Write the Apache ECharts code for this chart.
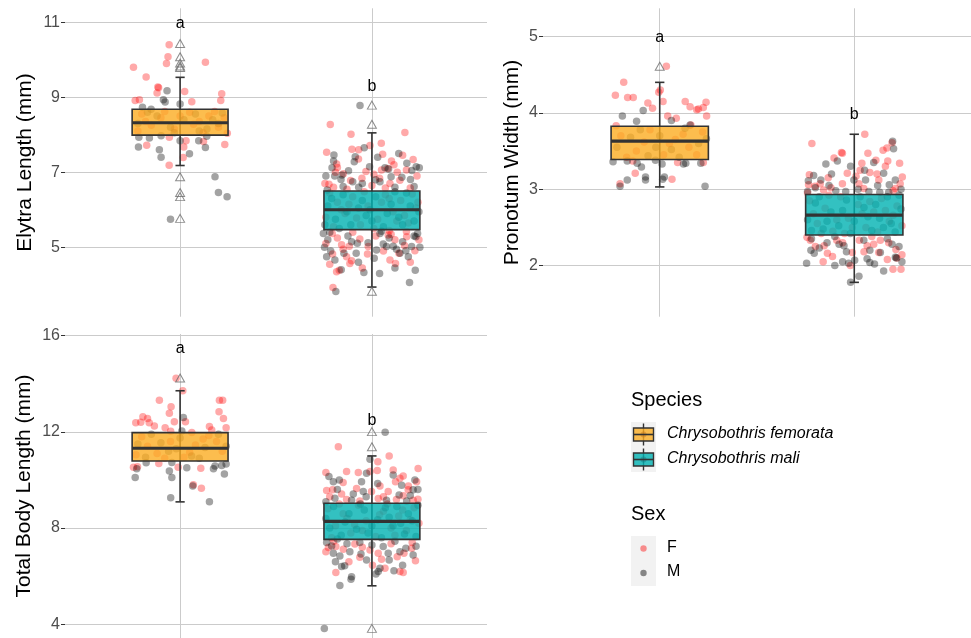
<!DOCTYPE html>
<html>
<head>
<meta charset="utf-8">
<script src="https://cdn.jsdelivr.net/npm/echarts@6/dist/echarts.min.js"></script>
<style>html,body{margin:0;padding:0;background:#fff}#c{width:971px;height:638px}</style>
</head>
<body>
<div id="c"></div>
<script>
// ---------------- DATA ----------------
const species = ['Chrysobothris femorata', 'Chrysobothris mali'];
const sexes = ['F', 'M'];

// box stats per species: [lower whisker, Q1, median, Q3, upper whisker]
const elytraStats = [[7.18, 7.99, 8.32, 8.68, 9.53], [3.94, 5.47, 6.00, 6.50, 8.05]];
const pronotumStats = [[3.03, 3.39, 3.63, 3.825, 4.40], [1.78, 2.40, 2.66, 2.93, 3.72]];
const bodyStats = [[9.09, 10.79, 11.32, 11.97, 13.71], [5.60, 7.53, 8.28, 9.03, 11.00]];

// outliers per species
const elytraOutliers = [[10.43, 10.08, 9.91, 9.83, 9.79, 6.88, 6.46, 6.35, 5.77], [8.79, 8.28, 3.83]];
const pronotumOutliers = [[4.61], []];
const bodyOutliers = [[14.24], [12.01, 11.38, 3.83]];

// significance letters and their heights
const elytraLetters = [['a', 10.97], ['b', 9.27]];
const pronotumLetters = [['a', 4.98], ['b', 3.98]];
const bodyLetters = [['a', 15.45], ['b', 12.47]];

// y tick labels
const elytraTicks = [5, 7, 9, 11];
const pronotumTicks = [2, 3, 4, 5];
const bodyTicks = [4, 8, 12, 16];

// jittered observations: [jitter offset, value]
const elytraFemF = [[-0.057,10.40],[-0.063,10.08],[-0.071,9.90],[-0.243,9.80],[0.132,9.93],[-0.177,9.54],[-0.116,9.27],[-0.112,9.25],[-0.120,9.11],[0.024,9.15],[0.061,8.88],[0.217,9.09],[0.212,8.91],[-0.234,8.91],[-0.212,8.93],[-0.174,7.72],[-0.056,7.93],[0.031,7.84],[0.019,7.67],[0.122,7.82],[0.233,7.74],[-0.057,7.19],[0.016,7.39],[0.246,8.04],
  [-0.2,8.55],[-0.15,8.25],[-0.1,8.45],[-0.03,8.15],[0.05,8.6],[0.1,8.35],[0.15,8.5],[0.2,8.2],[-0.22,8.1],[0.0,8.5],[0.12,8.05],[-0.08,8.62],[0.23,8.45],[-0.18,8.35],[0.07,8.28],[0.18,8.62]];
const elytraFemM = [[-0.068,9.17],[-0.087,8.93],[-0.078,8.87],[0.0,8.82],[-0.196,8.73],[-0.151,8.68],[-0.215,7.93],[-0.160,7.91],[-0.099,7.97],[-0.217,7.67],[-0.108,7.60],[-0.099,7.40],[0.0,7.84],[0.049,7.49],[0.097,7.84],[0.139,7.96],[0.132,7.66],[0.182,6.88],[0.200,6.46],[0.245,6.35],[-0.050,5.75],
  [-0.22,8.3],[-0.12,8.5],[-0.05,8.2],[0.02,8.4],[0.08,8.55],[0.14,8.15],[0.2,8.3],[-0.17,8.6],[0.22,8.58],[-0.03,8.05],[0.1,8.1],[0.17,8.4]];
const elytraMaliF = [[-0.217,8.27],[-0.109,8.01],[0.172,8.06],[-0.236,7.53],[-0.104,7.61],[-0.069,7.60],[0.049,7.77],[0.056,7.48],[-0.184,7.22],[-0.180,7.13],[-0.031,7.02],[0.102,7.30],[0.050,7.06],[-0.052,6.84],[0.215,7.34],[0.180,7.06],[-0.224,6.68],[-0.111,6.78],[0.040,6.84],[0.094,6.70],[0.146,6.79],[-0.010,7.71],[-0.149,6.96],[0.132,7.00],[0.082,7.10],
  [-0.207,5.37],[-0.158,5.07],[-0.205,4.82],[-0.118,5.03],[-0.132,4.75],[-0.106,4.64],[-0.115,4.57],[-0.170,4.39],[-0.184,4.35],[-0.063,5.22],[-0.019,5.02],[-0.023,4.82],[0.085,5.33],[0.120,5.20],[0.094,4.66],[0.123,4.57],[0.181,5.28],[0.224,4.91],[0.141,4.84],[-0.203,3.93],
  [-0.22,6.45],[-0.18,6.2],[-0.14,5.9],[-0.1,6.35],[-0.06,5.6],[-0.02,6.1],[0.03,5.75],[0.07,6.4],[0.11,5.95],[0.15,6.25],[0.19,5.65],[0.23,6.05],[-0.24,5.8],[-0.2,5.55],[-0.12,6.15],[-0.04,6.48],[0.01,5.5],[0.09,6.3],[0.13,5.7],[0.21,6.42],[-0.16,6.0],[0.05,6.2],[0.17,5.85],[-0.08,5.78],[0.24,6.2],
  [-0.2,6.6],[0.0,6.65],[0.2,6.58],[-0.1,5.4],[0.1,5.35],[0.18,5.42],
  [-0.245,6.7],[-0.19,7.0],[0.01,6.95],[0.115,7.2],[0.235,6.9],[-0.07,7.35],[0.16,7.45],[-0.13,6.55],[0.07,6.58],[-0.24,5.1],[-0.15,4.95],[0.02,5.3],[0.06,4.9],[0.17,5.05],[0.245,5.2],[-0.05,4.45],[0.2,4.6],[-0.22,4.55],[0.09,5.45],[-0.18,5.25]];
const elytraMaliM = [[-0.062,8.78],[-0.198,7.46],[-0.087,7.41],[-0.092,7.28],[-0.156,6.93],[-0.122,7.04],[-0.194,6.90],[-0.161,6.81],[-0.208,7.12],[0.068,7.12],[0.087,7.09],[0.182,7.24],[0.231,7.15],[0.247,7.12],[0.201,6.81],[0.156,6.87],[0.019,6.80],[-0.069,6.60],[0.042,6.75],[-0.233,6.53],[0.208,7.05],[-0.012,7.15],
  [-0.253,5.37],[-0.247,5.00],[-0.236,4.75],[-0.193,4.66],[-0.146,4.84],[-0.076,5.11],[-0.082,4.84],[-0.106,5.15],[-0.042,4.33],[-0.188,3.82],[0.012,4.71],[0.024,4.93],[0.059,5.09],[0.076,5.02],[0.111,5.03],[0.128,4.95],[0.146,4.84],[0.177,4.91],[0.207,5.02],[0.229,5.28],[0.238,5.37],[0.226,4.39],[0.196,4.06],[0.042,5.37],
  [-0.23,6.1],[-0.19,5.75],[-0.15,6.4],[-0.11,5.6],[-0.07,6.05],[-0.03,5.85],[0.02,6.35],[0.06,5.55],[0.1,6.15],[0.14,5.8],[0.18,6.45],[0.22,5.7],[0.245,5.95],[-0.245,5.6],[-0.21,6.3],[-0.13,5.95],[-0.05,6.25],[0.0,5.7],[0.08,5.9],[0.12,6.48],[0.2,6.1],[-0.17,5.5],[0.16,5.6],[-0.01,6.0],
  [-0.15,6.62],[0.12,6.6],[-0.22,5.4],[0.05,5.43],[0.22,5.3],[-0.05,6.7],
  [-0.24,6.9],[-0.1,6.75],[0.1,6.88],[0.22,6.62],[0.03,7.4],[-0.2,7.3],[0.14,7.5],[-0.04,7.65],[-0.215,4.9],[-0.125,5.3],[-0.02,5.12],[0.09,5.25],[0.16,5.15],[0.25,5.0],[0.19,4.75],[-0.07,4.6],[0.12,4.45],[-0.16,4.4],[0.04,4.3],[-0.23,5.2]];

const pronotumFemF = [[0.034,4.61],[-0.185,4.40],[-0.228,4.23],[-0.165,4.20],[-0.136,4.20],[-0.005,4.27],[0.003,4.30],[0.017,4.15],[-0.061,4.13],[-0.037,4.06],[0.131,4.15],[0.156,4.08],[0.190,4.04],[0.199,4.05],[0.224,4.07],[0.238,4.14],[0.241,3.96],[0.041,3.96],[0.085,3.93],[-0.224,3.83],[-0.126,3.21],[0.063,3.13],[-0.204,3.07],[0.092,3.35],[-0.139,3.37],[0.224,3.35],[0.160,3.84],
  [-0.2,3.7],[-0.12,3.5],[-0.05,3.78],[0.02,3.45],[0.08,3.65],[0.15,3.55],[0.22,3.75],[-0.17,3.42],[0.05,3.6],[0.19,3.45],[-0.08,3.62],[0.12,3.72]];
const pronotumFemM = [[-0.085,4.03],[-0.192,3.96],[-0.119,3.89],[0.060,3.90],[0.156,3.84],[-0.240,3.36],[-0.167,3.37],[-0.094,3.29],[-0.116,3.34],[-0.073,3.16],[-0.073,3.12],[-0.167,3.12],[-0.204,3.04],[0.015,3.13],[0.024,3.16],[0.122,3.33],[0.134,3.34],[0.211,3.34],[0.233,3.04],[-0.022,3.38],[0.012,3.33],
  [-0.22,3.55],[-0.15,3.68],[-0.06,3.44],[0.0,3.7],[0.06,3.52],[0.13,3.8],[0.2,3.6],[-0.1,3.78],[0.1,3.42],[0.24,3.66],[-0.02,3.55]];
const pronotumMaliF = [[0.054,3.72],[-0.218,3.60],[-0.066,3.48],[-0.061,3.47],[-0.104,3.41],[0.070,3.47],[0.168,3.54],[0.194,3.61],[0.148,3.51],[0.111,3.38],[0.172,3.37],[0.233,3.34],[0.039,3.34],[0.080,3.22],[0.117,3.20],[0.126,3.12],[-0.061,3.07],[-0.036,3.21],[0.009,3.17],[0.024,3.07],[-0.134,3.15],[-0.175,3.07],[-0.202,3.04],[-0.231,3.19],[-0.235,3.06],[0.247,3.16],[0.236,3.07],[0.211,3.01],[0.049,3.01],[-0.158,2.99],
  [-0.243,2.37],[-0.226,2.33],[-0.155,2.26],[-0.138,2.16],[-0.112,2.12],[0.066,2.26],[0.100,2.28],[0.134,2.33],[0.177,2.30],[0.214,2.21],[0.245,2.14],[0.199,1.95],[0.240,1.95],[0.126,2.17],[-0.010,2.17],[-0.090,2.33],[0.026,2.33],[0.219,2.10],
  [-0.23,2.85],[-0.19,2.55],[-0.15,2.75],[-0.11,2.45],[-0.07,2.9],[-0.03,2.62],[0.02,2.8],[0.06,2.5],[0.1,2.7],[0.14,2.88],[0.18,2.58],[0.22,2.78],[-0.21,2.68],[-0.13,2.92],[-0.05,2.42],[0.04,2.68],[0.12,2.44],[0.2,2.66],[0.245,2.52],[-0.17,2.42],[-0.09,2.6],[0.08,2.84],[0.16,2.72],[-0.01,2.5],
  [-0.24,2.95],[-0.12,3.02],[0.03,3.25],[0.16,3.3],[0.2,2.98],[-0.2,2.25],[-0.06,2.3],[0.05,2.18],[0.17,2.08],[-0.16,2.05],[0.09,2.38],[-0.02,2.0]];
const pronotumMaliM = [[0.197,3.63],[0.202,3.53],[-0.146,3.33],[-0.087,3.37],[-0.019,3.30],[0.100,3.35],[0.053,3.25],[-0.117,3.20],[0.151,3.21],[-0.236,3.11],[-0.172,3.12],[-0.002,3.12],[0.058,3.12],[0.211,3.12],[-0.209,3.18],[0.180,3.06],[-0.095,2.98],[-0.044,2.97],[0.075,2.97],[0.131,2.96],[0.177,2.96],[-0.240,2.97],
  [-0.245,2.03],[-0.100,2.00],[-0.060,2.05],[-0.029,2.03],[-0.019,1.78],[0.024,1.86],[0.080,2.04],[0.104,2.02],[0.151,1.93],[0.216,2.10],[0.245,2.05],[-0.223,2.20],[-0.206,2.16],[-0.180,2.23],[-0.078,2.28],[-0.053,2.26],[0.049,2.33],[0.134,2.17],[0.194,2.28],[0.211,2.11],[0.002,2.07],[0.066,2.09],
  [-0.24,2.6],[-0.2,2.82],[-0.16,2.48],[-0.12,2.7],[-0.08,2.52],[-0.04,2.86],[0.0,2.58],[0.05,2.76],[0.09,2.46],[0.13,2.62],[0.17,2.9],[0.21,2.44],[0.24,2.74],[-0.22,2.46],[-0.14,2.58],[-0.06,2.72],[0.03,2.9],[0.11,2.8],[0.19,2.55],[-0.18,2.9],[-0.02,2.42],[0.07,2.64],[0.15,2.5],[0.23,2.92],
  [-0.2,3.02],[-0.13,3.05],[0.02,3.0],[0.12,3.05],[0.24,3.0],[-0.22,2.35],[-0.14,2.3],[-0.04,2.18],[0.08,2.2],[0.17,2.35],[0.23,2.25],[-0.1,2.38]];

const bodyFemF = [[-0.021,14.23],[0.014,13.71],[-0.108,13.32],[-0.047,13.05],[-0.056,12.77],[-0.194,12.63],[-0.170,12.56],[-0.231,12.38],[-0.205,12.40],[-0.161,12.38],[-0.134,12.24],[-0.030,12.42],[0.028,12.42],[-0.078,12.17],[-0.049,12.03],[0.153,12.22],[0.165,12.08],[0.205,13.32],[0.222,13.32],[0.203,12.84],[0.226,12.56],[0.240,12.17],[0.061,11.97],[-0.243,10.53],[-0.222,10.55],[-0.010,10.53],[0.108,10.49],[0.069,9.80],[0.111,9.66],[-0.111,10.69],
  [-0.2,11.8],[-0.12,11.1],[-0.05,11.6],[0.02,10.95],[0.08,11.45],[0.15,11.85],[0.22,11.2],[-0.17,11.4],[0.05,11.15],[0.19,11.6],[-0.08,10.9],[0.12,11.7],[-0.23,11.05]];
const bodyFemM = [[0.017,12.60],[0.009,12.04],[-0.234,10.10],[-0.226,10.47],[-0.177,10.72],[-0.056,10.37],[-0.043,10.10],[0.035,10.51],[-0.043,10.73],[0.174,10.47],[0.182,10.58],[0.217,10.60],[0.240,10.66],[0.231,10.25],[-0.049,9.26],[0.153,9.10],[0.066,9.75],
  [-0.22,11.5],[-0.15,11.9],[-0.06,11.2],[0.0,11.75],[0.06,11.0],[0.13,11.35],[0.2,11.9],[-0.1,11.55],[0.1,10.9],[0.24,11.4],[-0.02,11.3],[-0.18,10.95]];
const bodyMaliF = [[-0.175,11.38],[0.090,11.00],[0.031,10.76],[0.028,10.39],[-0.240,10.31],[-0.132,10.35],[-0.071,10.31],[-0.010,10.35],[0.111,10.42],[0.146,10.07],[0.123,9.93],[0.163,10.17],[0.241,10.48],[0.233,9.93],[-0.236,9.56],[-0.205,9.59],[-0.158,9.42],[0.042,9.75],[0.085,9.52],[0.189,9.59],[0.163,9.34],[-0.132,9.19],[-0.063,9.13],[0.033,9.23],[0.128,9.19],[0.215,9.16],[-0.002,9.52],
  [-0.240,7.02],[-0.188,7.23],[-0.149,7.12],[-0.089,7.34],[-0.010,7.09],[0.033,6.95],[0.068,6.33],[0.003,6.46],[-0.188,6.15],[0.132,6.81],[0.167,6.95],[0.207,7.16],[0.227,6.64],[0.146,6.19],[0.163,6.15],[-0.063,6.79],[-0.227,7.19],
  [-0.23,8.8],[-0.19,8.1],[-0.15,8.6],[-0.11,7.8],[-0.07,8.95],[-0.03,8.3],[0.02,7.65],[0.06,8.7],[0.1,8.0],[0.14,8.5],[0.18,7.9],[0.22,8.85],[0.245,8.2],[-0.21,7.6],[-0.13,8.4],[-0.05,7.9],[0.04,8.55],[0.12,7.7],[0.2,8.35],[-0.17,9.0],[-0.09,8.15],[0.08,9.0],[0.16,8.75],
  [-0.22,9.3],[-0.08,9.65],[0.06,9.3],[0.19,9.75],[0.24,9.2],[-0.15,9.9],[-0.2,7.45],[-0.05,7.2],[0.1,7.35],[0.21,7.4],[-0.12,6.6],[0.05,6.7]];
const bodyMaliM = [[0.069,11.98],[-0.010,10.86],[-0.028,10.28],[-0.224,10.14],[-0.201,9.93],[-0.170,10.00],[-0.054,9.93],[0.111,10.21],[0.155,9.78],[0.224,10.00],[0.215,9.59],[0.142,9.38],[-0.097,9.42],[-0.193,9.24],[-0.045,9.52],[-0.106,9.16],[0.076,9.16],[0.181,9.13],
  [-0.210,7.26],[-0.236,7.40],[-0.201,6.95],[-0.167,6.84],[-0.158,6.40],[-0.142,6.43],[-0.106,5.98],[-0.109,5.87],[-0.167,5.61],[-0.063,7.40],[-0.057,6.92],[-0.028,6.67],[0.033,6.19],[0.042,6.33],[0.021,6.09],[0.085,6.95],[0.090,6.67],[0.146,7.02],[0.177,7.16],[0.215,6.88],[0.115,6.23],[-0.248,3.82],[0.059,7.23],[-0.115,7.02],
  [-0.24,8.4],[-0.2,8.9],[-0.16,7.7],[-0.12,8.6],[-0.08,7.95],[-0.04,8.75],[0.0,8.1],[0.05,7.6],[0.09,8.45],[0.13,8.9],[0.17,7.75],[0.21,8.3],[0.24,8.95],[-0.22,8.0],[-0.14,8.25],[-0.06,9.0],[0.03,8.35],[0.11,8.1],[0.19,8.6],[-0.18,7.55],[-0.02,7.8],[0.07,8.85],[0.15,8.2],[0.23,7.65],
  [-0.18,9.6],[-0.03,9.3],[0.03,9.85],[0.2,9.35],[0.24,9.6],[-0.24,9.1],[-0.13,7.35],[0.0,7.3],[0.12,7.45],[0.23,7.25],[-0.19,6.6],[0.16,6.45]];

// ---------------- STYLE / LAYOUT ----------------
const FONT = '"Liberation Sans", Arial, Helvetica, sans-serif';
const boxFills = ['rgba(251,172,34,0.8)', 'rgba(0,178,178,0.8)'];
const pointColors = { F: 'rgba(255,0,0,0.42)', M: 'rgba(0,0,0,0.45)' };
const GRID_COLOR = '#cbcbcb';

const panels = [
  { name: 'Elytra Length (mm)', stats: elytraStats, outliers: elytraOutliers, letters: elytraLetters, ticks: elytraTicks,
    pts: [[elytraFemF, elytraFemM], [elytraMaliF, elytraMaliM]], grid: { left: 65, right: 484, top: 8.3, bottom: 321.3 }, min: 3.15, max: 11.37, nameGap: 29 },
  { name: 'Pronotum Width (mm)', stats: pronotumStats, outliers: pronotumOutliers, letters: pronotumLetters, ticks: pronotumTicks,
    pts: [[pronotumFemF, pronotumFemM], [pronotumMaliF, pronotumMaliM]], grid: { left: 543, right: -4, top: 8.3, bottom: 321.3 }, min: 1.33, max: 5.37, nameGap: 20 },
  { name: 'Total Body Length (mm)', stats: bodyStats, outliers: bodyOutliers, letters: bodyLetters, ticks: bodyTicks,
    pts: [[bodyFemF, bodyFemM], [bodyMaliF, bodyMaliM]], grid: { left: 65, right: 484, top: 334, bottom: 0 }, min: 3.43, max: 16.07, nameGap: 30 }
];

const grids = [], xAxes = [], yAxes = [], series = [];
panels.forEach((p, i) => {
  grids.push(Object.assign({ containLabel: false }, p.grid));
  xAxes.push({ type: 'value', gridIndex: i, min: 0.4, max: 2.6,
    axisLine: { show: false }, axisTick: { show: false, customValues: [1, 2] },
    axisLabel: { show: false, customValues: [1, 2] },
    splitLine: { show: true, lineStyle: { color: GRID_COLOR, width: 1 } } });
  yAxes.push({ type: 'value', gridIndex: i, min: p.min, max: p.max,
    name: p.name, nameLocation: 'middle', nameGap: p.nameGap,
    nameTextStyle: { fontSize: 21, color: '#000', fontFamily: FONT },
    axisLine: { show: false },
    axisTick: { show: true, length: 4, lineStyle: { color: '#333', width: 1 }, customValues: p.ticks },
    axisLabel: { customValues: p.ticks, fontSize: 16, color: '#4d4d4d', fontFamily: FONT, margin: 5 },
    splitLine: { show: true, lineStyle: { color: GRID_COLOR, width: 1 } } });

  // jittered points
  p.pts.forEach((bySex, s) => {
    bySex.forEach((arr, k) => {
      series.push({ type: 'scatter', xAxisIndex: i, yAxisIndex: i, z: 1, silent: true,
        symbol: 'circle', symbolSize: 7.5,
        itemStyle: { color: pointColors[sexes[k]] },
        data: arr.map(d => [s + 1 + d[0], d[1]]) });
    });
  });

  const statData = p.stats.map((st, s) => [s + 1].concat(st));
  // error bars (whiskers with caps)
  series.push({ type: 'custom', xAxisIndex: i, yAxisIndex: i, z: 2, silent: true,
    encode: { x: 0, y: [1, 5] }, data: statData,
    renderItem: (params, api) => {
      const x = api.value(0);
      const lo = api.coord([x, api.value(1)]);
      const hi = api.coord([x, api.value(5)]);
      const cap = api.size([0.024, 0])[0];
      const st = { stroke: '#333', lineWidth: 1.6 };
      return { type: 'group', children: [
        { type: 'line', shape: { x1: lo[0], y1: lo[1], x2: hi[0], y2: hi[1] }, style: st },
        { type: 'line', shape: { x1: lo[0] - cap, y1: lo[1], x2: lo[0] + cap, y2: lo[1] }, style: st },
        { type: 'line', shape: { x1: hi[0] - cap, y1: hi[1], x2: hi[0] + cap, y2: hi[1] }, style: st }
      ] };
    } });
  // boxes
  series.push({ type: 'custom', xAxisIndex: i, yAxisIndex: i, z: 3, silent: true,
    encode: { x: 0, y: [2, 4] }, data: statData,
    renderItem: (params, api) => {
      const x = api.value(0);
      const half = api.size([0.25, 0])[0];
      const q1 = api.coord([x, api.value(2)]);
      const md = api.coord([x, api.value(3)]);
      const q3 = api.coord([x, api.value(4)]);
      return { type: 'group', children: [
        { type: 'rect', shape: { x: q1[0] - half, y: q3[1], width: 2 * half, height: q1[1] - q3[1] },
          style: { fill: boxFills[params.dataIndex], stroke: '#333', lineWidth: 1.6 } },
        { type: 'line', shape: { x1: md[0] - half, y1: md[1], x2: md[0] + half, y2: md[1] },
          style: { stroke: '#333', lineWidth: 3.2 } }
      ] };
    } });
  // outliers
  const outData = [];
  p.outliers.forEach((arr, s) => arr.forEach(v => outData.push([s + 1, v])));
  series.push({ type: 'scatter', xAxisIndex: i, yAxisIndex: i, z: 4, silent: true,
    symbol: 'triangle', symbolSize: [9, 8],
    itemStyle: { color: 'rgba(255,255,255,0)', borderColor: '#6e6e6e', borderWidth: 1 },
    data: outData });
  // letters
  series.push({ type: 'custom', xAxisIndex: i, yAxisIndex: i, z: 5, silent: true,
    encode: { x: 0, y: 1 }, data: p.letters.map((l, s) => [s + 1, l[1], l[0]]),
    renderItem: (params, api) => {
      const c = api.coord([api.value(0), api.value(1)]);
      return { type: 'text', x: c[0], y: c[1],
        style: { text: p.letters[params.dataIndex][0], fill: '#000', font: '16px ' + FONT, align: 'center', verticalAlign: 'middle' } };
    } });
});

// ---------------- LEGEND (graphic) ----------------
const legendGraphics = [
  { type: 'text', left: 631, top: 390, style: { text: 'Species', font: '20px ' + FONT, fill: '#000' } },
  { type: 'rect', shape: { x: 631, y: 422, width: 25, height: 50 }, style: { fill: '#f2f2f2' } },
  { type: 'text', left: 631, top: 504, style: { text: 'Sex', font: '20px ' + FONT, fill: '#000' } },
  { type: 'rect', shape: { x: 631, y: 536, width: 25, height: 50 }, style: { fill: '#f2f2f2' } }
];
species.forEach((sp, s) => {
  const cy = 434.5 + s * 25;
  legendGraphics.push(
    { type: 'line', shape: { x1: 643.5, y1: cy - 11, x2: 643.5, y2: cy + 11 }, style: { stroke: '#333', lineWidth: 1.4 } },
    { type: 'rect', shape: { x: 633.5, y: cy - 6.5, width: 20, height: 13 }, style: { fill: boxFills[s], stroke: '#333', lineWidth: 1.4 } },
    { type: 'circle', shape: { cx: 643.5, cy: cy, r: 3 }, style: { fill: s === 0 ? 'rgba(200,120,30,0.45)' : 'rgba(30,120,130,0.45)' } },
    { type: 'line', shape: { x1: 633.5, y1: cy, x2: 653.5, y2: cy }, style: { stroke: '#333', lineWidth: 1.6 } },
    { type: 'text', left: 667, top: cy - 9, style: { text: sp, font: 'italic 16px ' + FONT, fill: '#000' } }
  );
});
sexes.forEach((sx, k) => {
  const cy = 548.5 + k * 24.5;
  legendGraphics.push(
    { type: 'circle', shape: { cx: 643.5, cy: cy, r: 3.2 }, style: { fill: pointColors[sx] } },
    { type: 'text', left: 667, top: cy - 9, style: { text: sx, font: '16px ' + FONT, fill: '#000' } }
  );
});

const chart = echarts.init(document.getElementById('c'), null, { renderer: 'canvas' });
chart.setOption({
  animation: false,
  backgroundColor: '#fff',
  grid: grids, xAxis: xAxes, yAxis: yAxes, series: series,
  graphic: legendGraphics
});
</script>
</body>
</html>
